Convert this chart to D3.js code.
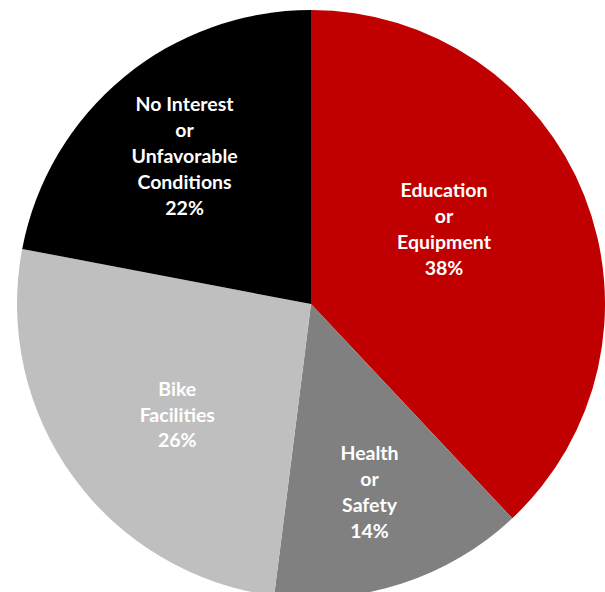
<!DOCTYPE html>
<html lang="en">
<head>
    <meta charset="UTF-8">
    <script src="https://cdnjs.cloudflare.com/ajax/libs/d3/7.8.5/d3.min.js"></script>
    <style>
        html, body { margin: 0; padding: 0; background: #fff; }
        svg text { font-family: Lato, "Open Sans", sans-serif; font-weight: bold; }
    </style>
</head>
<body>
<div id="chart"></div>
<script>
    // reasons, clockwise from 12 o'clock
    var categories = [
        ["Education", "or", "Equipment"],
        ["Health", "or", "Safety"],
        ["Bike", "Facilities"],
        ["No Interest", "or", "Unfavorable", "Conditions"]
    ];
    var shares = [38, 14, 26, 22];
    var sliceColors = ["#C00000", "#808080", "#BFBFBF", "#000000"];
    // small nudges so the labels sit where the original puts them
    var labelNudge = [[-31, -10], [4, 20], [9, 7], [-14, -12]];

    var width = 605, height = 592;
    var cx = 311, cy = 304, radius = 294;

    var svg = d3.select("#chart")
        .append("svg")
        .attr("width", width)
        .attr("height", height);

    var g = svg.append("g")
        .attr("transform", "translate(" + cx + "," + cy + ")");

    var pie = d3.pie()
        .sort(null)
        .value(function (d) { return d; });

    var arcs = pie(shares);

    var arc = d3.arc()
        .innerRadius(0)
        .outerRadius(radius);

    var labelArc = d3.arc()
        .innerRadius(radius * 0.6)
        .outerRadius(radius * 0.6);

    g.selectAll("path")
        .data(arcs)
        .enter()
        .append("path")
        .attr("d", arc)
        .attr("fill", function (d, i) { return sliceColors[i]; });

    var lineH = 26;
    var labels = g.selectAll("text.label")
        .data(arcs)
        .enter()
        .append("text")
        .attr("class", "label")
        .attr("text-anchor", "middle")
        .attr("fill", "#fff")
        .style("font-size", "19.5px")
        .attr("transform", function (d, i) {
            var c = labelArc.centroid(d);
            return "translate(" + (c[0] + labelNudge[i][0]) + "," + (c[1] + labelNudge[i][1]) + ")";
        });

    labels.each(function (d, i) {
        var lines = categories[i].concat([shares[i] + "%"]);
        var n = lines.length;
        var t = d3.select(this);
        for (var k = 0; k < n; ++k) {
            t.append("tspan")
                .attr("x", 0)
                .attr("y", (k - (n - 1) / 2) * lineH)
                .attr("dy", "0.35em")
                .text(lines[k]);
        }
    });
</script>
</body>
</html>
